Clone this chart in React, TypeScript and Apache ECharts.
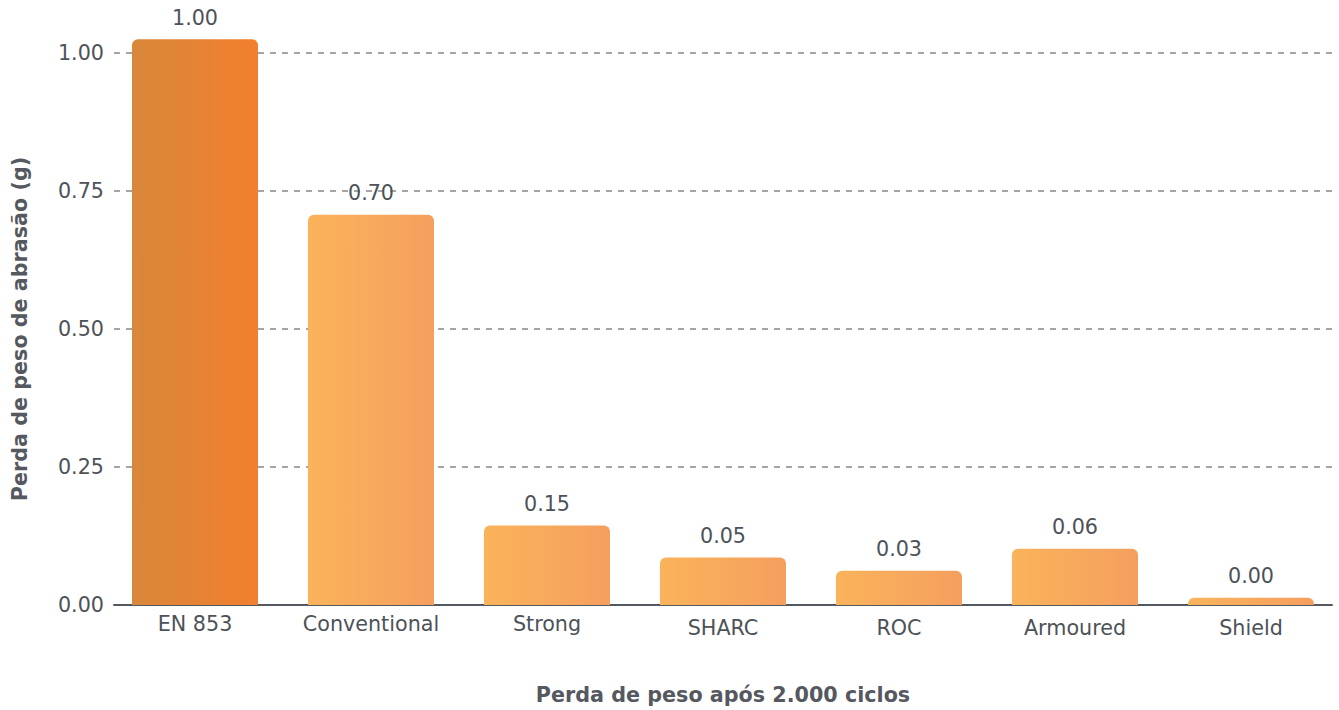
import React, { useEffect, useRef } from "react";
import * as echarts from "echarts";

const categories = ["EN 853", "Conventional", "Strong", "SHARC", "ROC", "Armoured", "Shield"];
// bar heights as drawn in the picture
const barValues = [1.025, 0.707, 0.144, 0.086, 0.062, 0.102, 0.013];
// values printed above the bars
const labelValues = [1.0, 0.7, 0.15, 0.05, 0.03, 0.06, 0.0];
const yTicks = [0, 0.25, 0.5, 0.75, 1.0];
const lowLabelIndex = [3, 4, 5, 6];

const FONT = "DejaVu Sans";
const FS = 20.7;
const TEXT = "#4d5258";

export default function App() {
  const ref = useRef<HTMLDivElement>(null);
  useEffect(() => {
    if (!ref.current) return;
    const chart = echarts.init(ref.current, undefined, { renderer: "svg" });
    const highlight = new echarts.graphic.LinearGradient(0, 0, 1, 0, [
      { offset: 0, color: "#d8873a" },
      { offset: 1, color: "#f27f2e" },
    ]);
    const normal = new echarts.graphic.LinearGradient(0, 0, 1, 0, [
      { offset: 0, color: "#fab35b" },
      { offset: 1, color: "#f59f5f" },
    ]);
    chart.setOption({
      animation: false,
      grid: { left: 114, right: 7, top: 53, bottom: 105, containLabel: false },
      xAxis: {
        type: "value",
        min: -81 / 176,
        max: 6 + 81 / 176,
        name: "Perda de peso após 2.000 ciclos",
        nameLocation: "middle",
        nameGap: 79,
        nameTextStyle: { fontFamily: FONT, fontSize: FS, fontWeight: "bold", color: "#55595f" },
        axisLine: { show: true, lineStyle: { color: "#55595f", width: 2 } },
        axisTick: { show: false },
        splitLine: { show: false },
        axisLabel: {
          customValues: categories.map((_, i) => i),
          margin: 8,
          formatter: (v: number) => {
            const i = Math.round(v);
            const name = categories[i] ?? "";
            return lowLabelIndex.includes(i) ? `{b|${name}}` : `{a|${name}}`;
          },
          rich: {
            a: { fontFamily: FONT, fontSize: FS, color: TEXT },
            b: { fontFamily: FONT, fontSize: FS, color: TEXT, padding: [4, 0, 0, 0] },
          },
        },
      },
      yAxis: {
        type: "value",
        min: 0,
        max: 1,
        interval: 0.25,
        name: "Perda de peso de abrasão (g)",
        nameLocation: "middle",
        nameGap: 84,
        nameTextStyle: { fontFamily: FONT, fontSize: FS, fontWeight: "bold", color: "#55595f" },
        axisLine: { show: false },
        axisTick: { show: false },
        axisLabel: {
          margin: 10,
          fontFamily: FONT,
          fontSize: FS,
          color: TEXT,
          customValues: yTicks,
          formatter: (v: number) => v.toFixed(2),
        },
        splitLine: { show: true, lineStyle: { color: "#888888", width: 1.5, type: [6, 6] } },
      },
      series: [
        {
          type: "bar",
          clip: false,
          barWidth: 126,
          data: barValues.map((v, i) => ({
            value: [i, v],
            itemStyle: { color: i === 0 ? highlight : normal, borderRadius: [6, 6, 0, 0] },
          })),
          label: {
            show: true,
            position: "top",
            distance: 11,
            fontFamily: FONT,
            fontSize: FS,
            color: TEXT,
            formatter: (p: any) => labelValues[p.dataIndex].toFixed(2),
          },
        },
      ],
    });
    return () => chart.dispose();
  }, []);
  return (
    <div
      ref={ref}
      style={{ position: "fixed", left: 0, top: 0, width: 1339, height: 710, background: "#fff" }}
    />
  );
}
